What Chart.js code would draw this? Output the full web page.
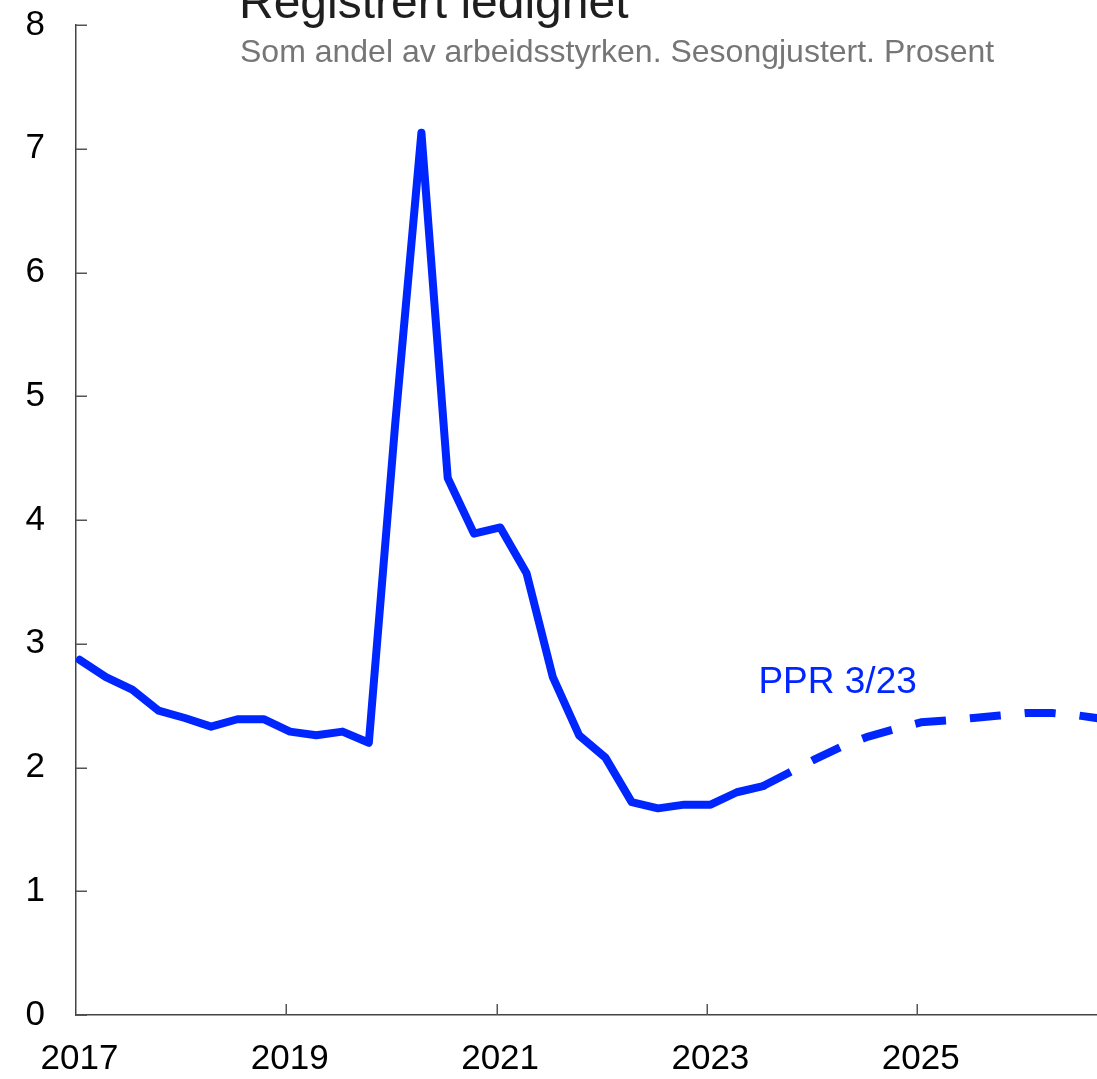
<!DOCTYPE html>
<html>
<head>
<meta charset="utf-8">
<script src="https://cdn.jsdelivr.net/npm/chart.js@4.4.1/dist/chart.umd.min.js"></script>
<style>
  html, body { margin: 0; padding: 0; background: #fff; }
  #wrap { width: 1097px; height: 1079px; position: relative; }
</style>
</head>
<body>
<div id="wrap"><canvas id="c"></canvas></div>
<script>
// ---- Data ----
const histQuarters = [
  '2017Q1','2017Q2','2017Q3','2017Q4',
  '2018Q1','2018Q2','2018Q3','2018Q4',
  '2019Q1','2019Q2','2019Q3','2019Q4',
  '2020Q1','2020Q2','2020Q3','2020Q4',
  '2021Q1','2021Q2','2021Q3','2021Q4',
  '2022Q1','2022Q2','2022Q3','2022Q4',
  '2023Q1','2023Q2','2023Q3'
];
const histValues = [
  2.87, 2.73, 2.63, 2.46,
  2.40, 2.33, 2.39, 2.39,
  2.29, 2.26, 2.29, 2.20,
  4.77, 7.13, 4.34, 3.89,
  3.94, 3.57, 2.73, 2.26,
  2.08, 1.72, 1.67, 1.70,
  1.70, 1.80, 1.85
];
const projQuarters = [
  '2023Q3','2023Q4',
  '2024Q1','2024Q2','2024Q3','2024Q4',
  '2025Q1','2025Q2','2025Q3','2025Q4',
  '2026Q1','2026Q2','2026Q3','2026Q4'
];
const projValues = [
  1.85, 1.96,
  2.07, 2.17, 2.25, 2.31,
  2.365, 2.38, 2.40, 2.42,
  2.44, 2.44, 2.42, 2.39
];
const xTickYears = [2017, 2019, 2021, 2023, 2025];
const yTickValues = [0, 1, 2, 3, 4, 5, 6, 7, 8];
const titleText = 'Registrert ledighet';
const subtitleText = 'Som andel av arbeidsstyrken. Sesongjustert. Prosent';
const projLabel = 'PPR 3/23';

// ---- Helpers / styles ----
const FONT = "'Liberation Sans', Arial, Helvetica, sans-serif";
const BLUE = '#0026ff';
const AXIS = '#444444';

function quarterToX(q) {
  const year = parseInt(q.slice(0, 4), 10);
  const n = parseInt(q.slice(5), 10);
  return year + (n - 1) / 4 + 0.035;
}

const histData = histQuarters.map((q, i) => ({ x: quarterToX(q), y: histValues[i] }));
const projData = projQuarters.map((q, i) => ({ x: quarterToX(q), y: projValues[i] }));

const decor = {
  id: 'decor',
  afterDraw(chart) {
    const ctx = chart.ctx;
    const xs = chart.scales.x, ys = chart.scales.y;
    const area = chart.chartArea;
    ctx.save();
    // inward tick marks
    ctx.strokeStyle = '#555555';
    ctx.lineWidth = 1.5;
    ctx.beginPath();
    yTickValues.forEach(v => {
      const py = Math.round(ys.getPixelForValue(v)) + 0.25;
      ctx.moveTo(area.left, py);
      ctx.lineTo(area.left + 11, py);
    });
    xTickYears.forEach(v => {
      if (v === xs.min) return;
      const px = Math.round(xs.getPixelForValue(v)) + 0.25;
      ctx.moveTo(px, area.bottom);
      ctx.lineTo(px, area.bottom - 11);
    });
    ctx.stroke();

    // title & subtitle
    ctx.textAlign = 'left';
    ctx.textBaseline = 'alphabetic';
    ctx.fillStyle = '#1e1e1e';
    ctx.font = '48px ' + FONT;
    ctx.fillText(titleText, 239, 18);
    ctx.fillStyle = '#767676';
    ctx.font = '32px ' + FONT;
    ctx.fillText(subtitleText, 240, 62);

    // series label
    ctx.fillStyle = BLUE;
    ctx.font = '37px ' + FONT;
    ctx.fillText(projLabel, xs.getPixelForValue(2023.49), ys.getPixelForValue(2.6));
    ctx.restore();
  }
};

new Chart(document.getElementById('c'), {
  type: 'line',
  data: {
    datasets: [
      {
        data: histData,
        borderColor: BLUE,
        borderWidth: 8,
        pointRadius: 0,
        tension: 0,
        borderCapStyle: 'round',
        borderJoinStyle: 'round',
        fill: false
      },
      {
        data: projData,
        borderColor: BLUE,
        borderWidth: 8,
        pointRadius: 0,
        tension: 0,
        borderDash: [31, 24],
        borderCapStyle: 'butt',
        borderJoinStyle: 'round',
        fill: false
      }
    ]
  },
  options: {
    responsive: true,
    maintainAspectRatio: false,
    animation: false,
    devicePixelRatio: 1,
    layout: { padding: { top: 25, right: 0, bottom: 0, left: 0 } },
    plugins: { legend: { display: false }, tooltip: { enabled: false }, title: { display: false } },
    scales: {
      x: {
        type: 'linear',
        min: 2017,
        max: 2026.71,
        afterBuildTicks: s => { s.ticks = xTickYears.map(v => ({ value: v })); },
        afterFit: s => { s.height = 64; s.paddingLeft = 0; s.paddingRight = 0; },
        grid: { display: false, drawTicks: false },
        border: { display: true, color: AXIS, width: 1.5 },
        ticks: {
          autoSkip: false,
          maxRotation: 0,
          padding: 23,
          labelOffset: 3.5,
          color: '#000',
          font: { family: FONT, size: 35 },
          callback: v => String(v)
        }
      },
      y: {
        type: 'linear',
        min: 0,
        max: 8,
        afterBuildTicks: s => { s.ticks = yTickValues.map(v => ({ value: v })); },
        afterFit: s => { s.width = 76; s.paddingTop = 0; s.paddingBottom = 0; },
        grid: { display: false, drawTicks: false },
        border: { display: true, color: AXIS, width: 1.5 },
        ticks: {
          padding: 31,
          color: '#000',
          font: { family: FONT, size: 35 },
          callback: v => String(v)
        }
      }
    }
  },
  plugins: [decor]
});
</script>
</body>
</html>
